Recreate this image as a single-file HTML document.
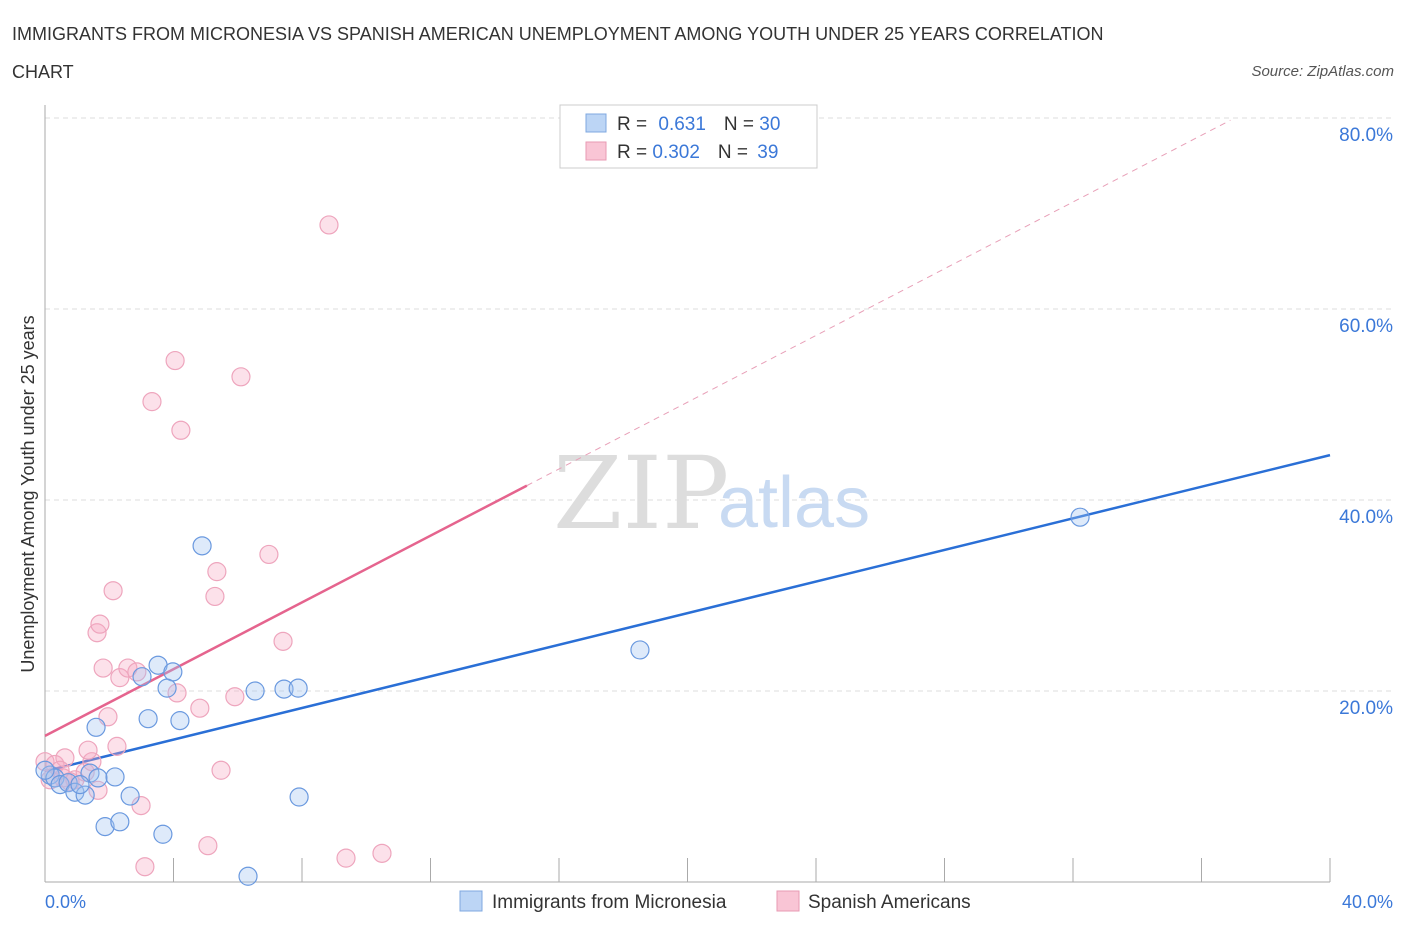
<!DOCTYPE html>
<html><head><meta charset="utf-8"><style>
body{margin:0;background:#fff;font-family:"Liberation Sans",sans-serif;}
svg text{font-family:"Liberation Sans",sans-serif;}
</style></head><body>
<svg width="1406" height="930" viewBox="0 0 1406 930" xmlns="http://www.w3.org/2000/svg">
<text x="12" y="40" font-size="18" fill="#333">IMMIGRANTS FROM MICRONESIA VS SPANISH AMERICAN UNEMPLOYMENT AMONG YOUTH UNDER 25 YEARS CORRELATION</text>
<text x="12" y="78" font-size="18" fill="#333">CHART</text>
<text x="1394" y="76" font-size="15" fill="#555" font-style="italic" text-anchor="end">Source: ZipAtlas.com</text>
<g id="grid"></g>
<text x="553" y="528" font-size="100" fill="#ddd" style="font-family:'DejaVu Serif','Liberation Serif',serif">ZIP</text>
<text x="718" y="527" font-size="72" fill="#c8daf2">atlas</text>
<g id="lines"></g>
<g id="pts"></g>
<text transform="translate(34,494) rotate(-90)" font-size="18" fill="#333" text-anchor="middle">Unemployment Among Youth under 25 years</text>
<text x="45" y="908" font-size="18" fill="#3b78d8">0.0%</text>
<text x="1393" y="908" font-size="18" fill="#3b78d8" text-anchor="end">40.0%</text>
<g>
<rect x="560" y="105" width="257" height="63" fill="#fff" stroke="#ccc"/>
<rect x="586" y="114" width="20" height="18" fill="#bcd5f5" stroke="#7fa8e0"/>
<rect x="586" y="142" width="20" height="18" fill="#f9c5d5" stroke="#e89ab3"/>
<text x="617" y="130" font-size="19" fill="#333">R = <tspan fill="#3b78d8" dx="6">0.631</tspan><tspan dx="18">N = </tspan><tspan fill="#3b78d8">30</tspan></text>
<text x="617" y="158" font-size="19" fill="#333">R = <tspan fill="#3b78d8">0.302</tspan><tspan dx="18">N = </tspan><tspan fill="#3b78d8" dx="4">39</tspan></text>
</g>
<g>
<rect x="460" y="891" width="22" height="20" fill="#bcd5f5" stroke="#7fa8e0"/>
<text x="492" y="908" font-size="19" fill="#333">Immigrants from Micronesia</text>
<rect x="777" y="891" width="22" height="20" fill="#f9c5d5" stroke="#e89ab3"/>
<text x="808" y="908" font-size="19" fill="#333">Spanish Americans</text>
</g>
</svg>
<script>
const blueX=[0.16,0.31,0.47,0.72,0.93,1.25,1.40,1.65,2.18,1.87,2.33,2.65,3.67,6.32,7.91,1.59,3.21,4.20,3.02,3.52,3.98,3.80,6.54,7.44,7.88,4.89,18.52,32.22,0,1.09];
const blueY=[11.2,10.9,10.2,10.4,9.4,9.1,11.4,10.9,11.0,5.8,6.3,9.0,5.0,0.6,8.9,16.2,17.1,16.9,21.5,22.7,22.0,20.3,20.0,20.2,20.3,35.2,24.3,38.2,11.7,10.2];
const pinkX=[0,0.31,0.62,0.56,0.93,1.25,1.46,1.65,1.34,2.24,1.96,1.81,2.33,2.58,2.86,1.62,1.71,2.12,2.99,3.11,3.33,4.05,4.23,4.11,4.82,5.29,5.35,5.48,5.07,6.10,5.91,6.97,7.41,8.84,9.37,10.49,0.78,0.16,0.47];
const pinkY=[12.6,12.3,13.0,10.9,10.7,11.5,12.6,9.6,13.8,14.2,17.3,22.4,21.4,22.4,22.0,26.1,27.0,30.5,8.0,1.6,50.3,54.6,47.3,19.8,18.2,29.9,32.5,11.7,3.8,52.9,19.4,34.3,25.2,68.8,2.5,3.0,10.5,10.7,11.7];
const yTicks=[20,40,60,80];
const yTickLabels=["20.0%","40.0%","60.0%","80.0%"];
const xTicks=[0,4,8,12,16,20,24,28,32,36,40];
const blueTrend=[11.6,44.7];
const pinkTrend=[15.3,1.747];
const NS="http://www.w3.org/2000/svg";
const sx=v=>45+v/40*1285, sy=v=>882-v/20*191;
function mk(t,a,p){const e=document.createElementNS(NS,t);for(const k in a)e.setAttribute(k,a[k]);p.appendChild(e);return e;}
const g=document.getElementById('grid');
yTicks.forEach((t,i)=>{
 const l=mk('line',{x1:45,x2:1393,y1:sy(t),y2:sy(t),stroke:'#ddd','stroke-dasharray':'5,4'},g);
 
 
 const tx=mk('text',{x:1393,y:sy(t)+23,'font-size':19,fill:'#3b78d8','text-anchor':'end'},g);
 tx.textContent=yTickLabels[i];
 
 
});
const ax=mk('line',{x1:45,x2:45,y1:105,y2:882,stroke:'#aaa'},g);


const bx=mk('line',{x1:45,x2:1330,y1:882,y2:882,stroke:'#aaa'},g);


xTicks.forEach(t=>{
 const l=mk('line',{x1:sx(t),x2:sx(t),y1:858,y2:882,stroke:'#aaa'},g);
 
 
});
const L=document.getElementById('lines');
const bl=mk('line',{x1:sx(0),y1:sy(blueTrend[0]),x2:sx(40),y2:sy(blueTrend[1]),stroke:'#2a6fd6','stroke-width':2.5},L);


const pl=mk('line',{x1:sx(0),y1:sy(pinkTrend[0]),x2:sx(15),y2:sy(pinkTrend[0]+15*pinkTrend[1]),stroke:'#e5648e','stroke-width':2.5},L);


const pd=mk('line',{x1:sx(15),y1:sy(pinkTrend[0]+15*pinkTrend[1]),x2:sx(36.9),y2:sy(pinkTrend[0]+36.9*pinkTrend[1]),stroke:'#e8a0b8','stroke-width':1,'stroke-dasharray':'6,5'},L);


const P=document.getElementById('pts');
pinkX.forEach((x,i)=>{
 const c=mk('circle',{cx:sx(x),cy:sy(pinkY[i]),r:9,fill:'rgba(246,170,195,0.35)',stroke:'#eea5bd','stroke-width':1.2},P);
 
 
});
blueX.forEach((x,i)=>{
 const c=mk('circle',{cx:sx(x),cy:sy(blueY[i]),r:9,fill:'rgba(160,195,240,0.35)',stroke:'#6a99df','stroke-width':1.2},P);
 
 
});
</script>
</body></html>
